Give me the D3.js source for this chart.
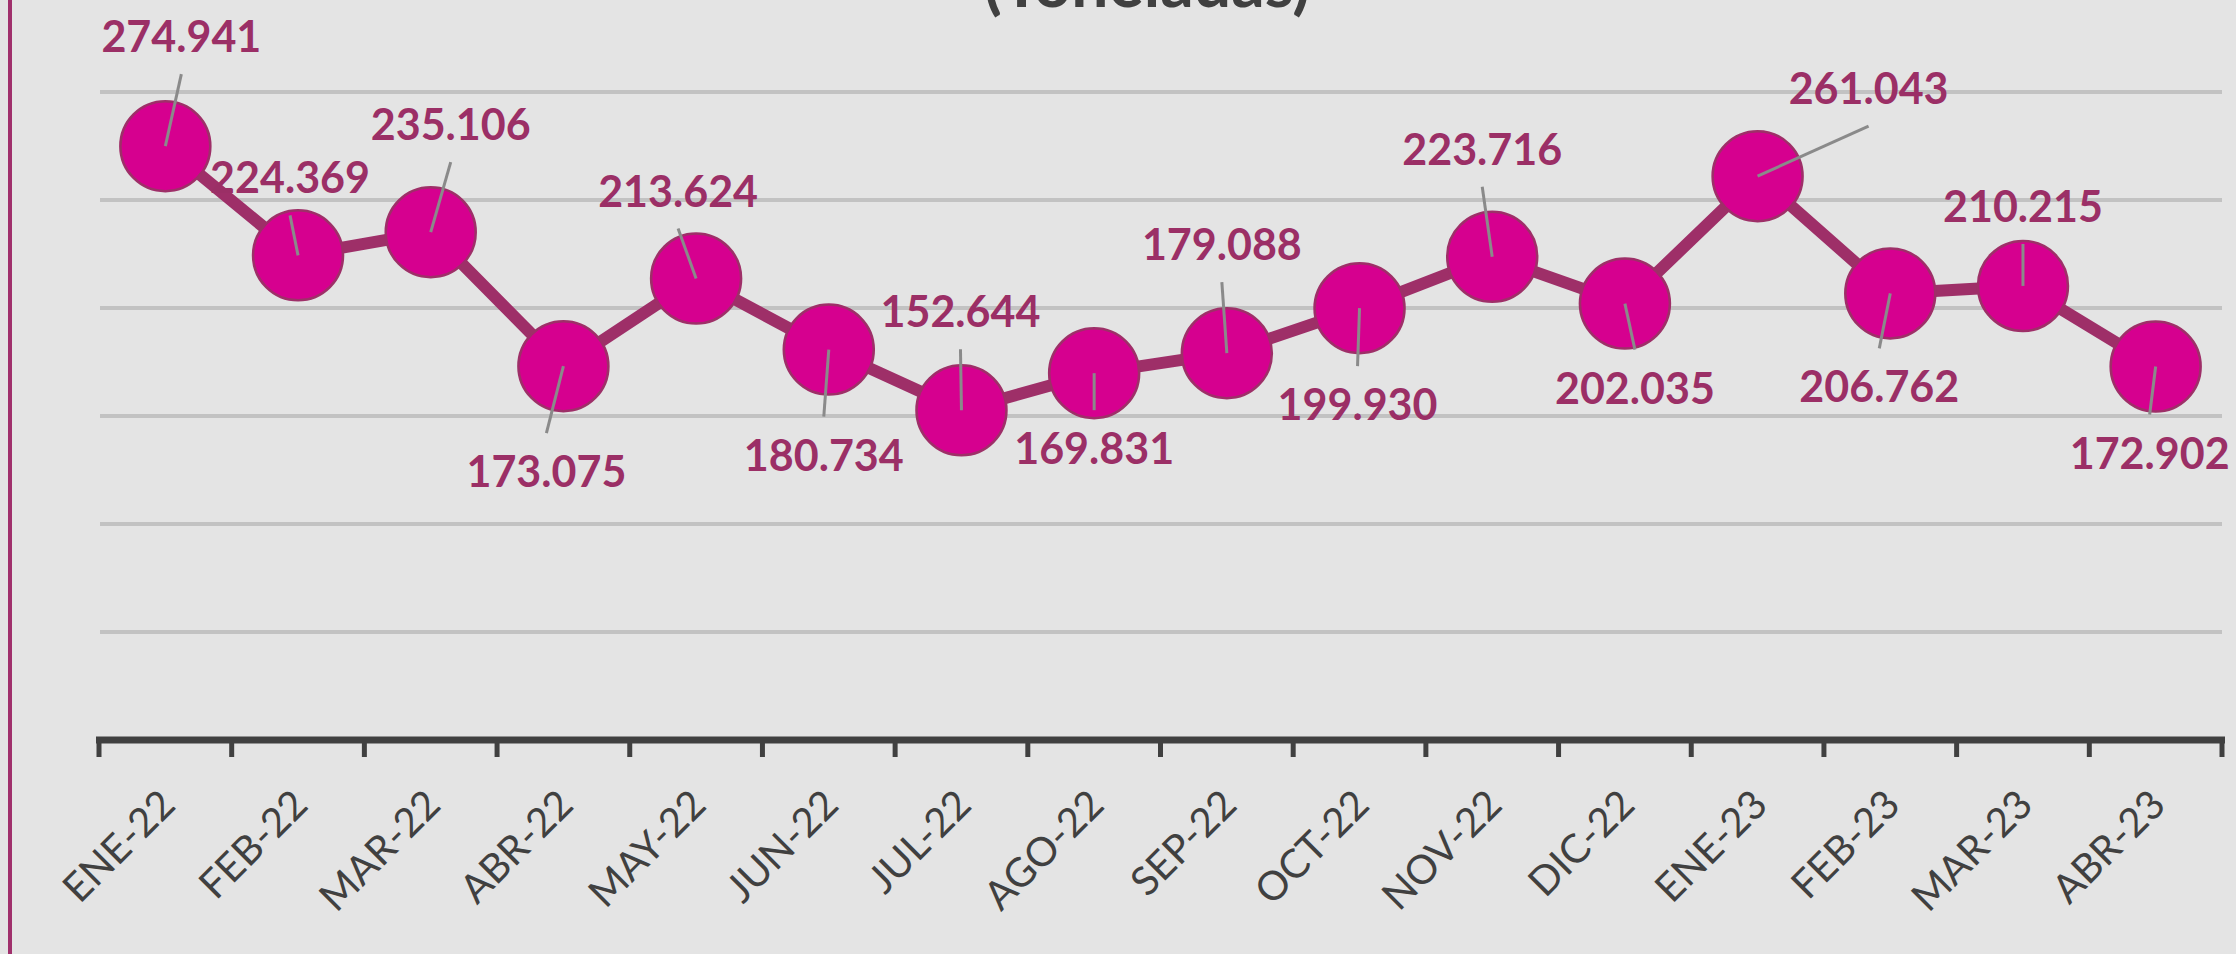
<!DOCTYPE html>
<html>
<head>
<meta charset="utf-8">
<script src="https://cdn.jsdelivr.net/npm/d3@7"></script>
<style>
  body { margin: 0; background: #e4e4e4; }
  svg { display: block; }
</style>
</head>
<body>
<script>
// data (toneladas, miles)
var months = ["ENE-22","FEB-22","MAR-22","ABR-22","MAY-22","JUN-22","JUL-22","AGO-22",
              "SEP-22","OCT-22","NOV-22","DIC-22","ENE-23","FEB-23","MAR-23","ABR-23"];
var toneladas = [274.941,224.369,235.106,173.075,213.624,180.734,152.644,169.831,
                 179.088,199.930,223.716,202.035,261.043,206.762,210.215,172.902];
var yTicks = [0,50,100,150,200,250,300];
var titleText = "(Toneladas)";

// where each data label was dragged to, relative to its point (label centre x, baseline y)
var labelOffsets = [[16,-94],[-8,-62],[20,-92],[-17,121],[-18,-72],[-5,121],[-1,-83],[0,91],
                    [-5,-93],[-2,112],[-10,-92],[10,100],[111,-72],[-11,109],[0,-64],[-6,102]];

var chartConfig = {
    width:2236, height:954,
    plot:{left:99, right:2222, top:92, bottom:740},
    layout:{
        back_color:"#e4e4e4",
        border:"#a0306c",
        grid:"#c2c2c2",
        axis:"#404040",
        line:"#9e2f68",
        marker:"#d6008f",
        label:"#9b2f66",
        leader:"#8a8a8a",
        font:"Lato, 'Open Sans', sans-serif"
    }
};

var c = chartConfig, L = chartConfig.layout;

var svg = d3.select("body").append("svg")
    .attr("width", c.width)
    .attr("height", c.height);

svg.append("rect")
    .attr("width", c.width).attr("height", c.height)
    .attr("fill", L.back_color);

// left border of the chart frame
svg.append("line")
    .attr("x1", 10).attr("x2", 10)
    .attr("y1", 0).attr("y2", c.height)
    .attr("stroke", L.border).attr("stroke-width", 4);

// title, cut off at the top
svg.append("text")
    .attr("x", 1147).attr("y", 7)
    .attr("text-anchor", "middle")
    .attr("font-family", L.font).attr("font-weight", 700)
    .attr("font-size", 66).attr("fill", "#404040")
    .text(titleText);

var x = d3.scaleBand().domain(months).range([c.plot.left, c.plot.right]).padding(0);
var y = d3.scaleLinear().domain([0, 300]).range([c.plot.bottom, c.plot.top]);

// gridlines
svg.append("g").selectAll("line")
    .data(yTicks.filter(function(d){ return d > 0; }))
    .join("line")
    .attr("x1", c.plot.left + 1).attr("x2", c.plot.right)
    .attr("y1", function(d){ return y(d); })
    .attr("y2", function(d){ return y(d); })
    .attr("stroke", L.grid).attr("stroke-width", 4);

// x axis: ticks between categories, rotated labels
var xAxis = svg.append("g").attr("transform", "translate(0," + c.plot.bottom + ")");
xAxis.append("line")
    .attr("x1", c.plot.left - 3).attr("x2", c.plot.right + 3)
    .attr("stroke", L.axis).attr("stroke-width", 7);
var tickPos = months.map(function(m){ return x(m); }).concat([c.plot.right]);
xAxis.selectAll(".tick").data(tickPos).join("line")
    .attr("class", "tick")
    .attr("x1", function(d){ return d; }).attr("x2", function(d){ return d; })
    .attr("y1", 0).attr("y2", 17)
    .attr("stroke", L.axis).attr("stroke-width", 5);
xAxis.selectAll(".lbl").data(months).join("text")
    .attr("class", "lbl")
    .attr("transform", function(d){
        return "translate(" + (x(d) + x.bandwidth()/2 + 12) + ",67) rotate(-45)";
    })
    .attr("text-anchor", "end")
    .attr("font-family", L.font).attr("font-size", 40)
    .attr("fill", "#404040")
    .text(function(d){ return d; });

var pts = months.map(function(m, i){
    return {m:m, v:toneladas[i], x:x(m) + x.bandwidth()/2, y:y(toneladas[i]), off:labelOffsets[i]};
});

var lineFunction = d3.line()
    .x(function(d){ return d.x; })
    .y(function(d){ return d.y; });

svg.append("path")
    .datum(pts)
    .attr("d", lineFunction)
    .attr("fill", "none")
    .attr("stroke", L.line)
    .attr("stroke-width", 12)
    .attr("stroke-linejoin", "round");

svg.append("g").selectAll("circle").data(pts).join("circle")
    .attr("cx", function(d){ return d.x; })
    .attr("cy", function(d){ return d.y; })
    .attr("r", 45)
    .attr("fill", L.marker)
    .attr("stroke", L.line).attr("stroke-width", 2.5);

// leader lines: from the point to the near edge of the label box
svg.append("g").selectAll("line").data(pts).join("line")
    .attr("x1", function(d){ return d.x; })
    .attr("y1", function(d){ return d.y; })
    .attr("x2", function(d){ return d.x + d.off[0]; })
    .attr("y2", function(d){
        var base = d.y + d.off[1];
        return d.off[1] < 0 ? base + 22 : base - 54;
    })
    .attr("stroke", L.leader).attr("stroke-width", 3);

var fmt = d3.format(".3f");
svg.append("g").selectAll("text").data(pts).join("text")
    .attr("x", function(d){ return d.x + d.off[0]; })
    .attr("y", function(d){ return d.y + d.off[1]; })
    .attr("text-anchor", "middle")
    .attr("font-family", L.font).attr("font-weight", 700)
    .attr("font-size", 43)
    .attr("fill", L.label)
    .text(function(d){ return fmt(d.v); });
</script>
</body>
</html>
